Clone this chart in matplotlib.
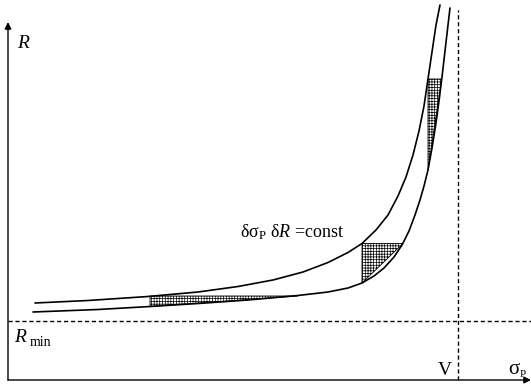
import matplotlib
matplotlib.use("Agg")
import matplotlib.pyplot as plt
from matplotlib.patches import Polygon

plt.rcParams['font.family'] = ['Liberation Serif', 'DejaVu Serif']
plt.rcParams['mathtext.fontset'] = 'custom'
plt.rcParams['mathtext.rm'] = 'Liberation Serif'
plt.rcParams['mathtext.it'] = 'Liberation Serif:italic'
plt.rcParams['mathtext.bf'] = 'Liberation Serif:bold'
plt.rcParams['hatch.linewidth'] = 0.5
plt.rcParams['hatch.color'] = 'black'

# ---- data (arbitrary units) ----
V = 450
R_min = 59

upper_sigma = [27, 80, 140, 190, 230, 265, 295, 320, 340, 354, 368, 380, 390, 398,
               405, 411, 416, 420, 424, 428, 432]
upper_R = [77, 79.5, 83.5, 88, 93.5, 100, 108, 117.5, 127.5, 136.5, 150, 165, 184, 203,
           225, 249, 274, 301, 328, 355, 375]

lower_sigma = [25, 90, 142, 190, 240, 290, 320, 340, 354, 366, 376, 386, 394, 401,
               407, 412, 416, 420, 424, 428, 431, 434, 437, 440, 442]
lower_R = [68, 70.5, 73.5, 76.5, 80, 84.5, 88, 92, 97, 104, 112, 123, 135, 149,
           165, 180, 194, 210, 232, 257, 279, 303, 329, 355, 372]

tri_sigma_left = [142, 354, 420]
tri_sigma_right = [290, 395, 433.7]
tri_R_top = [84, 136.5, 301]
tri_R_bottom = [73.5, 97, 210]

W, H = 531, 386
fig = plt.figure(figsize=(W / 100, H / 100), dpi=100)
ax = fig.add_axes([8 / W, 6 / H, 523 / W, 380 / H])
ax.set_xlim(0, 523)
ax.set_ylim(0, 380)
ax.axis('off')

# curves
ax.plot(upper_sigma, upper_R, color='black', lw=1.2, solid_capstyle='round',
        solid_joinstyle='round')
ax.plot(lower_sigma, lower_R, color='black', lw=1.2, solid_capstyle='round',
        solid_joinstyle='round')

# hatched triangles
for xl, xr, rt, rb in zip(tri_sigma_left, tri_sigma_right, tri_R_top, tri_R_bottom):
    poly = Polygon([(xl, rt), (xl, rb), (xr, rt)], closed=True,
                   facecolor='white', edgecolor='black', lw=0.6, hatch='++++++')
    ax.add_patch(poly)

# dashed reference lines
ax.plot([V, V], [0, 370], color='black', lw=1.0, linestyle=(0, (3, 2)), clip_on=False)
ax.plot([0, 523], [R_min, R_min], color='black', lw=1.0, linestyle=(0, (3, 2)), clip_on=False)

# axes with arrows
ax.annotate('', xy=(0, 358), xytext=(0, 0),
            arrowprops=dict(arrowstyle='-|>', lw=1.0, color='black',
                            mutation_scale=10, shrinkA=0, shrinkB=0),
            annotation_clip=False)
ax.annotate('', xy=(523, 0), xytext=(0, 0),
            arrowprops=dict(arrowstyle='-|>', lw=1.0, color='black',
                            mutation_scale=10, shrinkA=0, shrinkB=0),
            annotation_clip=False)

# labels
ax.text(9, 332, 'R', fontsize=14, style='italic', ha='left', va='baseline')
ax.text(6, 38, 'R', fontsize=14, style='italic', ha='left', va='baseline')
ax.text(22, 34, 'min', fontsize=10, ha='left', va='baseline')
ax.text(430, 5, 'V', fontsize=14, ha='left', va='baseline')
ax.text(500, 6, 'σ', fontsize=15, ha='left', va='baseline')
ax.text(512, 3, 'P', fontsize=8, ha='left', va='baseline')
ax.text(232, 143, 'δσ$_\\mathrm{P}$ δ$R$ =const', fontsize=13, ha='left', va='baseline')

fig.savefig('out.png', dpi=100)
